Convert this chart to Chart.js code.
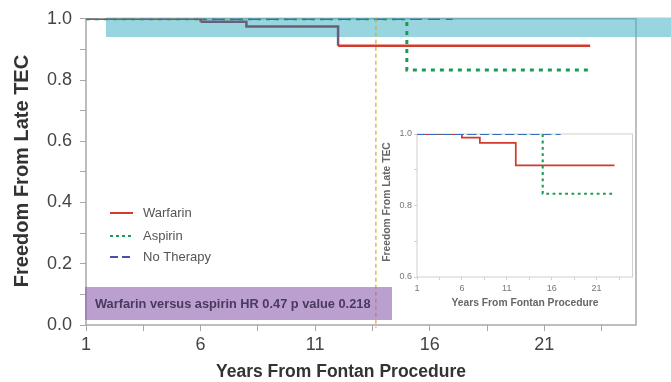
<!DOCTYPE html>
<html lang="en">
<head>
<meta charset="UTF-8">
<title>Freedom From Late TEC</title>
<script src="https://cdn.jsdelivr.net/npm/chart.js@4.4.1/dist/chart.umd.min.js"></script>
<style>
    body { margin: 0; background: #fff; }
    .wrap { position: relative; width: 671px; height: 382px; overflow: hidden; }
    #main { position: absolute; left: 0; top: 0; }
    #inset { position: absolute; left: 378px; top: 118px; }
</style>
</head>
<body>
<div class="wrap">
    <canvas id="main" width="671" height="382"></canvas>
    <canvas id="inset" width="260" height="200"></canvas>
</div>
<script>
    // Kaplan-Meier steps
    const seriesNames = ['Warfarin', 'Aspirin', 'No Therapy'];
    const warfarinYears = [1, 6, 8, 12, 23];
    const warfarinFree = [1, 0.99, 0.975, 0.912, 0.912];
    const aspirinYears = [1, 15, 23];
    const aspirinFree = [1, 0.833, 0.833];
    const noTherapyYears = [1, 17];
    const noTherapyFree = [1, 1];

    const xTickLabels = [1, 6, 11, 16, 21];
    const mainYTicks = [0, 0.2, 0.4, 0.6, 0.8, 1.0];
    const insetYTicks = [0.6, 0.8, 1.0];
    const markerYear = 13.65;
    const noteText = 'Warfarin versus aspirin HR 0.47 p value 0.218';
    const xTitle = 'Years From Fontan Procedure';
    const yTitle = 'Freedom From Late TEC';

    const colors = ['#d23a2e', '#1f9a55', '#3a6cbf'];
    const FONT = '"Liberation Sans", Arial, sans-serif';

    function points(xs, ys) {
        return xs.map((x, i) => ({ x: x, y: ys[i] }));
    }

    // adds a minor tick halfway between each pair of major ticks (and one past the end)
    function withMinor(major, step) {
        let out = [];
        major.forEach((v, i) => {
            out.push(v);
            out.push(i < major.length - 1 ? (v + major[i + 1]) / 2 : v + step / 2);
        });
        return out;
    }

    // k = line scale, shaded = tint the warfarin steps that sit under the teal band
    // order: no therapy on top, warfarin at the bottom
    function makeDatasets(k, shaded) {
        const sets = [
            { label: seriesNames[0], data: points(warfarinYears, warfarinFree), borderColor: colors[0], borderWidth: 2.5 * k, order: 2 },
            { label: seriesNames[1], data: points(aspirinYears, aspirinFree), borderColor: colors[1], borderWidth: 3 * k, borderDash: [4 * k, 5 * k], order: 1 },
            { label: seriesNames[2], data: points(noTherapyYears, noTherapyFree), borderColor: colors[2], borderWidth: 2.5 * k, borderDash: [12 * k, 6 * k], order: 0 }
        ].map(d => Object.assign(d, { stepped: true, pointRadius: 0, fill: false }));
        if (shaded) {
            sets[0].segment = {
                borderColor: c => (c.p0.parsed.y < 1 && c.p0.parsed.y > 0.95) ? '#6b5d7c' : undefined
            };
        }
        return sets;
    }

    function makeScales(o) {
        return {
            x: {
                type: 'linear', min: 1, max: 25,
                border: { display: false },
                grid: { drawOnChartArea: false, tickLength: o.tick, tickColor: o.frame },
                afterBuildTicks: s => { s.ticks = withMinor(xTickLabels, 5).map(v => ({ value: v })); },
                afterFit: s => { s.height = o.xh; },
                ticks: {
                    autoSkip: false, maxRotation: 0, padding: o.xpad, color: o.tickColor,
                    font: { family: FONT, size: o.fs },
                    callback: v => xTickLabels.includes(v) ? String(v) : ''
                }
            },
            y: {
                type: 'linear', min: o.ymin, max: 1,
                border: { display: false },
                grid: { drawOnChartArea: false, tickLength: o.tick, tickColor: o.frame },
                afterBuildTicks: s => { s.ticks = withMinor(o.yticks, 0.2).filter(v => v <= 1.0001).map(v => ({ value: v })); },
                afterFit: s => { s.width = o.yw; },
                ticks: {
                    autoSkip: false, padding: o.ypad, color: o.tickColor,
                    font: { family: FONT, size: o.fs },
                    callback: v => o.yticks.includes(v) ? v.toFixed(1) : ''
                }
            }
        };
    }

    function drawFrame(chart, color, width) {
        const a = chart.chartArea, ctx = chart.ctx;
        ctx.save();
        ctx.strokeStyle = color;
        ctx.lineWidth = width;
        ctx.strokeRect(a.left, a.top, a.right - a.left, a.bottom - a.top);
        ctx.restore();
    }

    function drawTitles(ctx, o) {
        ctx.save();
        ctx.fillStyle = o.color;
        ctx.textAlign = 'center';
        ctx.textBaseline = 'middle';
        ctx.font = 'bold ' + o.xSize + 'px ' + FONT;
        ctx.fillText(xTitle, o.xx, o.xy);
        ctx.translate(o.yx, o.yy);
        ctx.rotate(-Math.PI / 2);
        ctx.font = 'bold ' + o.ySize + 'px ' + FONT;
        ctx.fillText(yTitle, 0, 0);
        ctx.restore();
    }

    const mainExtras = {
        id: 'mainExtras',
        beforeDatasetsDraw(chart) {
            drawFrame(chart, '#a8a8a8', 1.5);
            // teal highlight band, behind the lines
            const ctx = chart.ctx;
            ctx.save();
            ctx.fillStyle = 'rgba(70,178,194,0.55)';
            ctx.fillRect(106, 17.5, 565, 19.5);
            ctx.restore();
        },
        afterDraw(chart) {
            const ctx = chart.ctx, a = chart.chartArea;
            const x = chart.scales.x;

            // orange dashed marker
            const mx = x.getPixelForValue(markerYear);
            ctx.save();
            ctx.strokeStyle = '#e2a52a';
            ctx.lineWidth = 1.2;
            ctx.setLineDash([4, 3]);
            ctx.beginPath();
            ctx.moveTo(mx, a.top);
            ctx.lineTo(mx, a.bottom + 3);
            ctx.stroke();
            ctx.restore();

            // purple note box
            ctx.save();
            ctx.fillStyle = 'rgba(140,95,175,0.6)';
            ctx.fillRect(85, 287, 307, 33);
            ctx.fillStyle = '#4a3a5e';
            ctx.font = 'bold 12.8px ' + FONT;
            ctx.textBaseline = 'middle';
            ctx.fillText(noteText, 95, 304.5);

            // legend
            const rows = [213, 236, 257];
            const ds = chart.data.datasets;
            ctx.font = '13px ' + FONT;
            rows.forEach((ly, i) => {
                ctx.strokeStyle = i === 2 ? '#4a4fa8' : ds[i].borderColor;
                ctx.lineWidth = 2;
                ctx.setLineDash(i === 0 ? [] : i === 1 ? [3, 3] : [8, 4]);
                ctx.beginPath();
                ctx.moveTo(110, ly);
                ctx.lineTo(133, ly);
                ctx.stroke();
                ctx.fillStyle = '#555';
                ctx.fillText(seriesNames[i], 143, ly);
            });
            ctx.restore();

            drawTitles(ctx, { color: '#333', xSize: 17.5, xx: 341, xy: 372, ySize: 20, yx: 22, yy: 171 });
        }
    };

    const insetExtras = {
        id: 'insetExtras',
        beforeDatasetsDraw(chart) {
            drawFrame(chart, '#cfcfcf', 1);
        },
        afterDraw(chart) {
            drawTitles(chart.ctx, { color: '#666', xSize: 10.3, xx: 147, xy: 185, ySize: 10.3, yx: 9, yy: 84 });
        }
    };

    new Chart(document.getElementById('main'), {
        type: 'line',
        data: { datasets: makeDatasets(1, true) },
        options: {
            responsive: false,
            animation: false,
            devicePixelRatio: 1,
            layout: { padding: { left: 0, right: 35, top: 17, bottom: 0 } },
            plugins: { legend: { display: false }, tooltip: { enabled: false } },
            scales: makeScales({
                ymin: 0, yticks: mainYTicks, frame: '#a8a8a8', tick: 6, fs: 18,
                tickColor: '#444', xh: 57, yw: 86, xpad: 3, ypad: 8
            })
        },
        plugins: [mainExtras]
    });

    new Chart(document.getElementById('inset'), {
        type: 'line',
        data: { datasets: makeDatasets(0.7, false) },
        options: {
            responsive: false,
            animation: false,
            devicePixelRatio: 1,
            layout: { padding: { left: 0, right: 5.5, top: 16, bottom: 0 } },
            plugins: { legend: { display: false }, tooltip: { enabled: false } },
            scales: makeScales({
                ymin: 0.6, yticks: insetYTicks, frame: '#cfcfcf', tick: 3, fs: 9,
                tickColor: '#777', xh: 41, yw: 39, xpad: 3, ypad: 2
            })
        },
        plugins: [insetExtras]
    });
</script>
</body>
</html>
